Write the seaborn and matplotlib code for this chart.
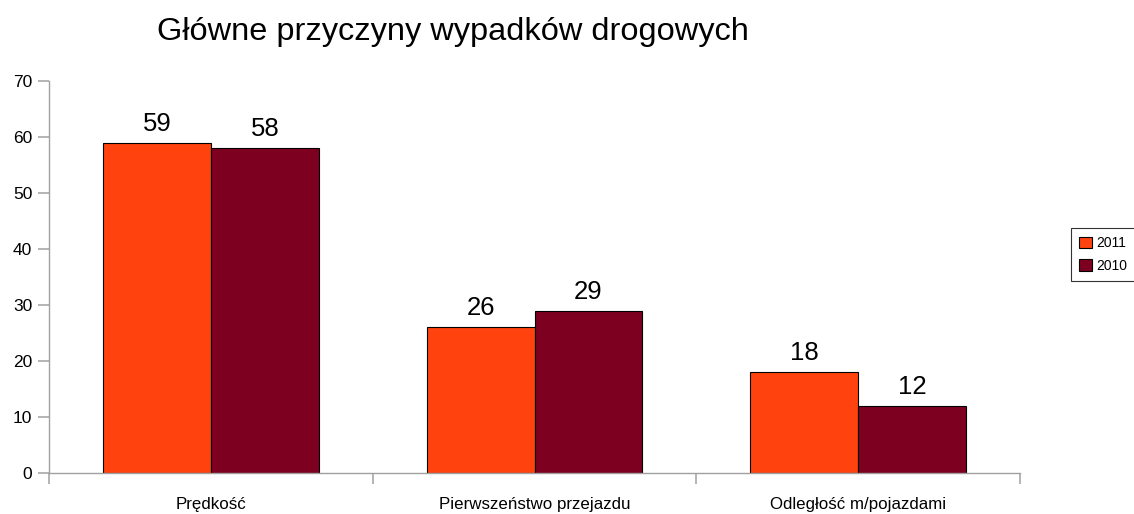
import pandas as pd
import seaborn as sns
import matplotlib.pyplot as plt

# Chart data
categories = ['Prędkość', 'Pierwszeństwo przejazdu', 'Odległość m/pojazdami']
years = ['2011', '2010']
values_2011 = [59, 26, 18]
values_2010 = [58, 29, 12]
colors = ['#FF420E', '#7E0021']

df = pd.DataFrame({
    'przyczyna': categories * 2,
    'rok': [years[0]] * 3 + [years[1]] * 3,
    'liczba': values_2011 + values_2010,
})

sns.set_style('white')
plt.rcParams['font.family'] = ['Liberation Sans', 'DejaVu Sans']
plt.rcParams['text.color'] = 'black'
plt.rcParams['xtick.color'] = 'black'
plt.rcParams['ytick.color'] = 'black'
plt.rcParams['ytick.left'] = True
plt.rcParams['xtick.bottom'] = True

fig = plt.figure(figsize=(11.34, 5.14), dpi=100)
ax = fig.add_axes([0.0432, 0.0798, 0.8563, 0.7626])

sns.barplot(data=df, x='przyczyna', y='liczba', hue='rok', order=categories,
            hue_order=years, palette=colors, width=0.667, edgecolor='black',
            linewidth=0.8, saturation=1, ax=ax)

# value labels
for cont in ax.containers:
    ax.bar_label(cont, fmt='%d', padding=5, fontsize=18.5, color='black')

ax.set_xlim(-0.5, 2.5)
ax.set_ylim(0, 70)
ax.set_yticks(range(0, 71, 10))
ax.set_xlabel('')
ax.set_ylabel('')

# axis styling
gray = '#a0a0a0'
for s in ['top', 'right']:
    ax.spines[s].set_visible(False)
for s in ['left', 'bottom']:
    ax.spines[s].set_color(gray)
    ax.spines[s].set_linewidth(1)
ax.tick_params(axis='y', which='major', left=True, length=8, width=1.1, color=gray,
               labelcolor='black', labelsize=12.5, pad=4)
ax.tick_params(axis='x', which='major', bottom=True, length=0, labelsize=12.2,
               labelcolor='black', pad=17)
ax.set_xticks([-0.5, 0.5, 1.5, 2.5], minor=True)
ax.tick_params(axis='x', which='minor', bottom=True, length=8, width=1.1, color=gray)
ax.spines['bottom'].set_bounds(-0.5, 2.5)
for t in ax.xaxis.get_minorticklines():
    t.set_clip_on(False)

fig.text(0.399, 0.937, 'Główne przyczyny wypadków drogowych', ha='center', va='center',
         fontsize=23.4, color='black')

ax.legend(loc='center left', bbox_to_anchor=(0.9444, 0.505), bbox_transform=fig.transFigure,
          borderaxespad=0, fontsize=10, frameon=True, fancybox=False, edgecolor='black',
          handlelength=0.9, handleheight=0.9, handletextpad=0.35, borderpad=0.6,
          labelspacing=0.6)
ax.get_legend().get_frame().set_linewidth(0.8)

fig.savefig('out.png', dpi=100)
